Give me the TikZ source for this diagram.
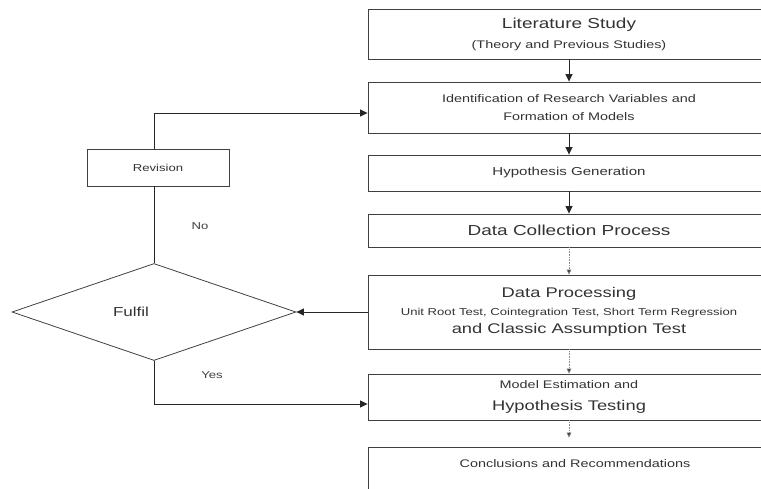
\documentclass[tikz,border=0pt]{standalone}
\usepackage{fontspec}
\setmainfont{Liberation Sans}[FakeStretch=1.31]
\usetikzlibrary{arrows.meta,shapes.geometric}

\begin{document}
\begin{tikzpicture}[x=1pt,y=-1pt]
% Parameters
\def\midx{569}
\def\boxw{402}
\def\forkx{154}
% Styles
\tikzset{
  box/.style={draw=black!75, line width=0.9pt, minimum width=\boxw pt, align=center, text=black!80, inner sep=0pt},
  line/.style={draw=black!85, line width=0.8pt},
  arr/.style={line, -{Triangle[length=7.5pt,width=7pt]}},
  faint/.style={draw=black!45, line width=0.6pt, densely dotted, -{Triangle[length=5pt,width=5pt,fill=black!75]}},
  lab/.style={text=black!75, font=\fontsize{10}{12}\selectfont}
}
\useasboundingbox (0,0) rectangle (761,488);
\clip (0,0) rectangle (761,488);
% Process boxes (right column)
\node[box, minimum height=50pt, font=\fontsize{11}{20}\selectfont] (lit) at (\midx,34)
  {{\fontsize{14.5}{20}\selectfont Literature Study}\\(Theory and Previous Studies)};
\node[box, minimum height=51pt, font=\fontsize{11}{18}\selectfont] (ident) at (\midx,107.5)
  {Identification of Research Variables and\\Formation of Models};
\node[box, minimum height=36pt, font=\fontsize{11.5}{14}\selectfont] (hyp) at (\midx,173)
  {Hypothesis Generation};
\node[box, minimum height=33pt, font=\fontsize{14.5}{16}\selectfont] (coll) at (\midx,230.5)
  {Data Collection Process};
\node[box, minimum height=74pt, font=\fontsize{14}{18}\selectfont] (proc) at (\midx,312)
  {Data Processing\\{\fontsize{10}{18}\selectfont Unit Root Test, Cointegration Test, Short Term Regression}\\and Classic Assumption Test};
\node[box, minimum height=46pt, font=\fontsize{11}{22}\selectfont] (est) at (\midx,397)
  {Model Estimation and\\{\fontsize{14}{22}\selectfont Hypothesis Testing}};
\node[box, minimum height=63pt] (concl) at (\midx,478.5) {};
\node[text=black!80, font=\fontsize{11}{13}\selectfont] (conclt) at (575,464)
  {Conclusions and Recommendations};
% Revision loop (left column)
\node[box, minimum width=142pt, minimum height=37pt, font=\fontsize{10}{12}\selectfont] (rev) at (158,167.5) {Revision};
\node[draw=black!75, line width=0.8pt, diamond, minimum width=284pt, minimum height=97pt, inner sep=0pt] (dec) at (\forkx,312) {};
\node[text=black!80, font=\fontsize{13}{15}\selectfont] (fulfil) at (131,312) {Fulfil};
\node[lab] (no) at (200,226) {No};
\node[lab] (yes) at (212,375) {Yes};
% Connectors
\draw[arr] (lit) -- (ident);
\draw[arr] (ident) -- (hyp);
\draw[arr] (hyp) -- (coll);
\draw[faint] (coll) -- (proc);
\draw[faint] (proc) -- (est);
\draw[faint, shorten >=9pt] (est) -- (concl);
\draw[arr] (rev.north -| dec.north) |- ([yshift=-5.5pt]ident.west);
\draw[line] (rev.south -| dec.north) -- (dec.north);
\draw[arr] (proc.west) -- (dec.east);
\draw[arr] (dec.south) |- ([yshift=-7pt]est.west);
\end{tikzpicture}
\end{document}
